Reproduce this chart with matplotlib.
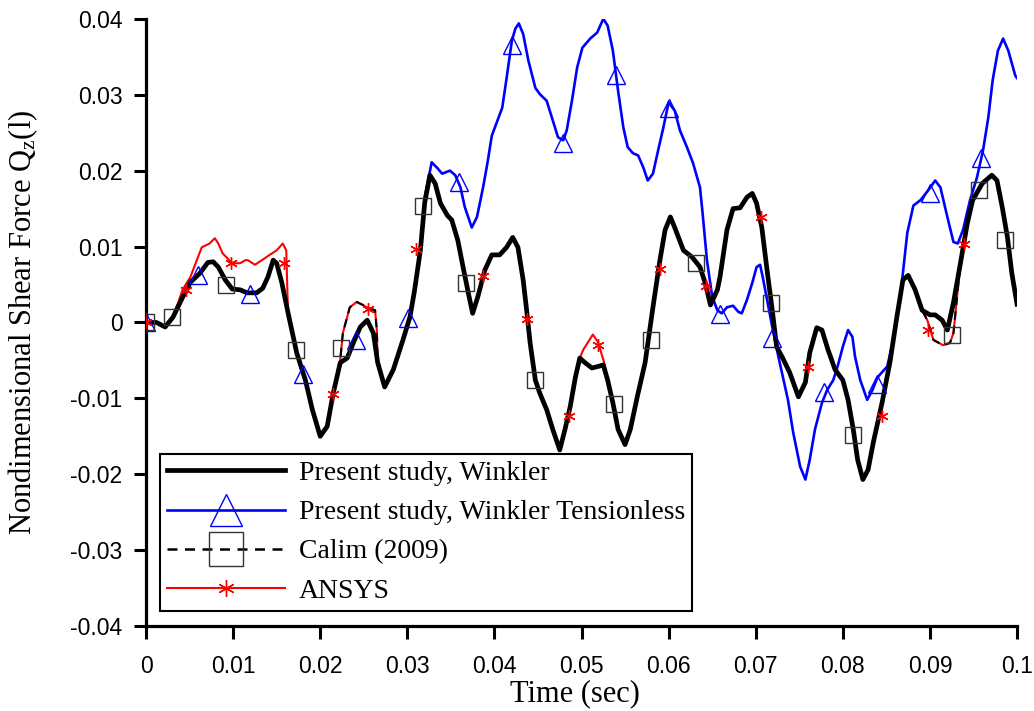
import numpy as np
import matplotlib
matplotlib.use("Agg")
import matplotlib.pyplot as plt
from matplotlib.lines import Line2D

plt.rcParams['mathtext.fontset'] = 'custom'
plt.rcParams['mathtext.rm'] = 'Liberation Serif'
plt.rcParams['mathtext.it'] = 'Liberation Serif:italic'

# Present study, Winkler
t_wink = [0.0000, 0.0012, 0.0022, 0.0031, 0.0042, 0.0051, 0.0062, 0.0071, 0.0077, 0.0083,
          0.0091, 0.0099, 0.0108, 0.0116, 0.0127, 0.0134, 0.0140, 0.0146, 0.0150, 0.0156,
          0.0163, 0.0173, 0.0183, 0.0191, 0.0200, 0.0208, 0.0215, 0.0223, 0.0231, 0.0238,
          0.0246, 0.0254, 0.0261, 0.0266, 0.0274, 0.0284, 0.0295, 0.0303, 0.0308, 0.0315,
          0.0320, 0.0326, 0.0332, 0.0338, 0.0346, 0.0351, 0.0358, 0.0364, 0.0370, 0.0375,
          0.0381, 0.0389, 0.0397, 0.0406, 0.0414, 0.0421, 0.0427, 0.0433, 0.0437, 0.0441,
          0.0447, 0.0452, 0.0460, 0.0467, 0.0475, 0.0481, 0.0487, 0.0493, 0.0498, 0.0504,
          0.0512, 0.0519, 0.0525, 0.0530, 0.0536, 0.0542, 0.0550, 0.0556, 0.0564, 0.0573,
          0.0582, 0.0590, 0.0596, 0.0602, 0.0607, 0.0617, 0.0627, 0.0636, 0.0642, 0.0648,
          0.0656, 0.0659, 0.0667, 0.0674, 0.0682, 0.0690, 0.0696, 0.0701, 0.0707, 0.0713,
          0.0719, 0.0724, 0.0731, 0.0739, 0.0749, 0.0757, 0.0762, 0.0770, 0.0776, 0.0783,
          0.0791, 0.0800, 0.0806, 0.0812, 0.0817, 0.0823, 0.0829, 0.0835, 0.0845, 0.0854,
          0.0862, 0.0869, 0.0875, 0.0883, 0.0891, 0.0900, 0.0906, 0.0914, 0.0920, 0.0927,
          0.0935, 0.0943, 0.0949, 0.0960, 0.0971, 0.0977, 0.0983, 0.0989, 0.0994, 0.1000]
q_wink = [0.0000, 0.0000, -0.0006, 0.0007, 0.0033, 0.0053, 0.0065, 0.0079, 0.0080, 0.0073,
          0.0056, 0.0044, 0.0043, 0.0039, 0.0039, 0.0045, 0.0060, 0.0082, 0.0078, 0.0052,
          0.0013, -0.0040, -0.0076, -0.0115, -0.0150, -0.0137, -0.0093, -0.0053, -0.0047, -0.0027,
          -0.0006, 0.0003, -0.0014, -0.0053, -0.0085, -0.0062, -0.0023, 0.0007, 0.0040, 0.0095,
          0.0158, 0.0194, 0.0183, 0.0157, 0.0141, 0.0135, 0.0108, 0.0073, 0.0039, 0.0012,
          0.0034, 0.0069, 0.0089, 0.0089, 0.0099, 0.0112, 0.0099, 0.0056, 0.0016, -0.0027,
          -0.0076, -0.0093, -0.0115, -0.0141, -0.0168, -0.0141, -0.0111, -0.0072, -0.0047, -0.0053,
          -0.0060, -0.0058, -0.0056, -0.0076, -0.0106, -0.0141, -0.0161, -0.0141, -0.0098, -0.0053,
          0.0020, 0.0082, 0.0122, 0.0139, 0.0125, 0.0095, 0.0086, 0.0073, 0.0052, 0.0023,
          0.0043, 0.0060, 0.0122, 0.0150, 0.0151, 0.0165, 0.0170, 0.0157, 0.0125, 0.0069,
          0.0016, -0.0032, -0.0047, -0.0066, -0.0098, -0.0079, -0.0040, -0.0007, -0.0010, -0.0036,
          -0.0062, -0.0076, -0.0102, -0.0141, -0.0181, -0.0207, -0.0194, -0.0158, -0.0106, -0.0053,
          0.0007, 0.0056, 0.0062, 0.0043, 0.0016, 0.0010, 0.0010, 0.0003, -0.0010, 0.0026,
          0.0078, 0.0131, 0.0161, 0.0183, 0.0194, 0.0187, 0.0152, 0.0112, 0.0065, 0.0024]

# Present study, Winkler Tensionless (same as Winkler before t = 0.032)
t_tens_tail = [0.0320, 0.0328, 0.0334, 0.0340, 0.0349, 0.0355, 0.0361, 0.0366, 0.0374, 0.0380,
               0.0387, 0.0392, 0.0397, 0.0409, 0.0414, 0.0420, 0.0424, 0.0428, 0.0433, 0.0439,
               0.0447, 0.0452, 0.0460, 0.0466, 0.0473, 0.0479, 0.0483, 0.0489, 0.0495, 0.0501,
               0.0510, 0.0518, 0.0525, 0.0530, 0.0536, 0.0542, 0.0548, 0.0553, 0.0559, 0.0565,
               0.0571, 0.0576, 0.0582, 0.0588, 0.0594, 0.0600, 0.0607, 0.0613, 0.0621, 0.0628,
               0.0636, 0.0639, 0.0644, 0.0650, 0.0656, 0.0661, 0.0667, 0.0674, 0.0680, 0.0684,
               0.0690, 0.0696, 0.0701, 0.0705, 0.0708, 0.0713, 0.0719, 0.0726, 0.0737, 0.0743,
               0.0751, 0.0757, 0.0762, 0.0768, 0.0776, 0.0782, 0.0789, 0.0794, 0.0800, 0.0806,
               0.0811, 0.0814, 0.0820, 0.0828, 0.0834, 0.0840, 0.0851, 0.0858, 0.0866, 0.0874,
               0.0881, 0.0889, 0.0898, 0.0906, 0.0912, 0.0920, 0.0927, 0.0932, 0.0938, 0.0946,
               0.0954, 0.0961, 0.0967, 0.0972, 0.0978, 0.0984, 0.0990, 0.0998, 0.1000]
q_tens_tail = [0.0165, 0.0211, 0.0204, 0.0196, 0.0200, 0.0194, 0.0178, 0.0152, 0.0125, 0.0139,
               0.0178, 0.0210, 0.0246, 0.0283, 0.0322, 0.0371, 0.0387, 0.0394, 0.0380, 0.0345,
               0.0309, 0.0301, 0.0292, 0.0270, 0.0244, 0.0240, 0.0253, 0.0292, 0.0336, 0.0362,
               0.0374, 0.0382, 0.0400, 0.0391, 0.0358, 0.0305, 0.0257, 0.0231, 0.0223, 0.0220,
               0.0204, 0.0187, 0.0196, 0.0227, 0.0257, 0.0290, 0.0279, 0.0253, 0.0231, 0.0210,
               0.0178, 0.0144, 0.0082, 0.0034, 0.0016, 0.0012, 0.0020, 0.0022, 0.0014, 0.0012,
               0.0030, 0.0052, 0.0073, 0.0076, 0.0060, 0.0030, -0.0006, -0.0045, -0.0102, -0.0145,
               -0.0190, -0.0207, -0.0181, -0.0141, -0.0106, -0.0089, -0.0076, -0.0058, -0.0032, -0.0010,
               -0.0019, -0.0045, -0.0076, -0.0102, -0.0089, -0.0072, -0.0058, -0.0023, 0.0034, 0.0118,
               0.0154, 0.0161, 0.0174, 0.0187, 0.0178, 0.0139, 0.0106, 0.0104, 0.0122, 0.0161,
               0.0191, 0.0227, 0.0270, 0.0319, 0.0358, 0.0374, 0.0358, 0.0325, 0.0322]

# ANSYS: parts where it departs from the Winkler curve
ansys_seg1_t = [0.0042, 0.0051, 0.0064, 0.0073, 0.0079, 0.0083, 0.0088, 0.0099, 0.0108, 0.0114,
                0.0117, 0.0125, 0.0133, 0.0142, 0.0150, 0.0157, 0.0161, 0.0162]
ansys_seg1_q = [0.0043, 0.0060, 0.0099, 0.0104, 0.0111, 0.0104, 0.0091, 0.0078, 0.0078, 0.0082,
                0.0082, 0.0076, 0.0082, 0.0089, 0.0095, 0.0104, 0.0095, 0.0056]
ansys_seg2_t = [0.0223, 0.0226, 0.0234, 0.0242, 0.0249, 0.0255, 0.0263, 0.0265]
ansys_seg2_q = [-0.0049, -0.0014, 0.0020, 0.0027, 0.0023, 0.0019, 0.0016, -0.0010]
ansys_seg3_t = [0.0498, 0.0502, 0.0513, 0.0519, 0.0526]
ansys_seg3_q = [-0.0047, -0.0036, -0.0016, -0.0026, -0.0053]
ansys_seg4_t = [0.0897, 0.0904, 0.0915, 0.0923, 0.0927]
ansys_seg4_q = [0.0003, -0.0023, -0.0030, -0.0027, -0.0014]

# marker points
tens_mk_t = [0.0000, 0.0060, 0.0119, 0.0180, 0.0241, 0.0301, 0.0359, 0.0420, 0.0479,
             0.0540, 0.0600, 0.0659, 0.0719, 0.0778, 0.0839, 0.0900, 0.0959]
tens_mk_q = [0.0000, 0.0062, 0.0037, -0.0068, -0.0023, 0.0006, 0.0185, 0.0365, 0.0237,
             0.0326, 0.0282, 0.0011, -0.0020, -0.0091, -0.0081, 0.0170, 0.0216]
calim_mk_t = [0.0000, 0.0030, 0.0092, 0.0172, 0.0224, 0.0318, 0.0367, 0.0447, 0.0537,
              0.0580, 0.0631, 0.0718, 0.0812, 0.0925, 0.0956, 0.0986]
calim_mk_q = [0.0000, 0.0007, 0.0049, -0.0036, -0.0034, 0.0153, 0.0052, -0.0076, -0.0107,
              -0.0023, 0.0078, 0.0026, -0.0148, -0.0016, 0.0174, 0.0108]
ansys_mk_t = [0.0000, 0.0046, 0.0098, 0.0158, 0.0215, 0.0255, 0.0310, 0.0387, 0.0437,
              0.0486, 0.0519, 0.0590, 0.0643, 0.0706, 0.0760, 0.0845, 0.0898, 0.0939]
ansys_mk_q = [0.0000, 0.0043, 0.0078, 0.0078, -0.0094, 0.0018, 0.0097, 0.0061, 0.0005,
              -0.0123, -0.0030, 0.0070, 0.0048, 0.0139, -0.0059, -0.0123, -0.0010, 0.0104]


def splice(t, q, segs):
    t = np.asarray(t)
    q = np.asarray(q)
    for st, sq in segs:
        keep = (t < st[0]) | (t > st[-1])
        t = np.concatenate([t[keep], st])
        q = np.concatenate([q[keep], sq])
        order = np.argsort(t, kind='stable')
        t, q = t[order], q[order]
    return t, q


tw = np.array(t_wink)
qw = np.array(q_wink)
pre = tw < t_tens_tail[0]
t_tens = np.concatenate([tw[pre], t_tens_tail])
q_tens = np.concatenate([qw[pre], q_tens_tail])
t_ansys, q_ansys = splice(tw, qw, [(ansys_seg1_t, ansys_seg1_q), (ansys_seg2_t, ansys_seg2_q),
                                   (ansys_seg3_t, ansys_seg3_q), (ansys_seg4_t, ansys_seg4_q)])
t_calim, q_calim = splice(tw, qw, [(ansys_seg2_t, ansys_seg2_q), (ansys_seg4_t, ansys_seg4_q)])

serif = 'Liberation Serif'
sans = 'Liberation Sans'

fig = plt.figure(figsize=(10.34, 7.11), dpi=100)
ax = fig.add_axes([0.1412, 0.1195, 0.8424, 0.854])

ax.plot(t_tens, q_tens, color='#0000ff', lw=1.9, zorder=2)
ax.plot(t_ansys, q_ansys, color='#ff0000', lw=1.5, zorder=3)
ax.plot(t_calim, q_calim, color='black', lw=1.5, ls=(0, (4, 3)), zorder=4)
ax.plot(tw, qw, color='black', lw=3.4, zorder=5)

ax.plot(tens_mk_t, tens_mk_q, ls='none', marker='^', ms=13, mfc='none', mec='#0000ff', mew=1.0, zorder=6)
ax.plot(calim_mk_t, calim_mk_q, ls='none', marker='s', ms=11.5, mfc='none', mec='#333333', mew=1.0, zorder=6)
ax.plot(ansys_mk_t, ansys_mk_q, ls='none', marker=(6, 2, 0), ms=9, mec='#ff0000', mew=1.0, zorder=7)

ax.set_xlim(0, 0.1)
ax.set_ylim(-0.04, 0.04)
ax.set_xticks(np.arange(0, 0.1001, 0.01))
ax.set_yticks(np.arange(-0.04, 0.0401, 0.01))
ax.set_xticklabels(['0', '0.01', '0.02', '0.03', '0.04', '0.05', '0.06', '0.07', '0.08', '0.09', '0.1'])
ax.set_yticklabels(['-0.04', '-0.03', '-0.02', '-0.01', '0', '0.01', '0.02', '0.03', '0.04'])
for lab in ax.get_xticklabels() + ax.get_yticklabels():
    lab.set_fontfamily(sans)
    lab.set_fontsize(16.5)
ax.tick_params(axis='both', direction='out', length=9, width=2.2, colors='black')
ax.tick_params(axis='x', pad=12)
ax.tick_params(axis='y', pad=8)
ax.spines['top'].set_visible(False)
ax.spines['right'].set_visible(False)
for s in ('left', 'bottom'):
    ax.spines[s].set_linewidth(2.3)
ax.set_xlabel('Time (sec)', family=serif, fontsize=22)
ax.set_ylabel(r'Nondimensional Shear Force Q$_{\mathrm{z}}$(l)', family=serif, fontsize=22)
ax.xaxis.set_label_coords(0.493, -0.088)
ax.yaxis.set_label_coords(-0.122, 0.5)

handles = [
    Line2D([], [], color='black', lw=3.4),
    Line2D([], [], color='#0000ff', lw=1.9, marker='^', ms=23, mfc='none', mec='#0000ff', mew=1.0),
    Line2D([], [], color='black', lw=1.8, ls=(0, (4, 3)), marker='s', ms=24, mfc='none', mec='#333333', mew=1.0),
    Line2D([], [], color='#ff0000', lw=1.5, marker=(6, 2, 0), ms=12, mec='#ff0000', mew=1.0),
]
labels = ['Present study, Winkler', 'Present study, Winkler Tensionless', 'Calim (2009)', 'ANSYS']
leg = ax.legend(handles, labels, loc='lower left', bbox_to_anchor=(0.016, 0.025), borderaxespad=0,
                prop={'family': serif, 'size': 20}, frameon=True, fancybox=False, framealpha=1,
                edgecolor='black', handlelength=4.25, handletextpad=0.5, labelspacing=0.5,
                borderpad=0.25)
leg.get_frame().set_linewidth(1.5)
leg.set_zorder(10)

fig.savefig('out.png', dpi=100)
